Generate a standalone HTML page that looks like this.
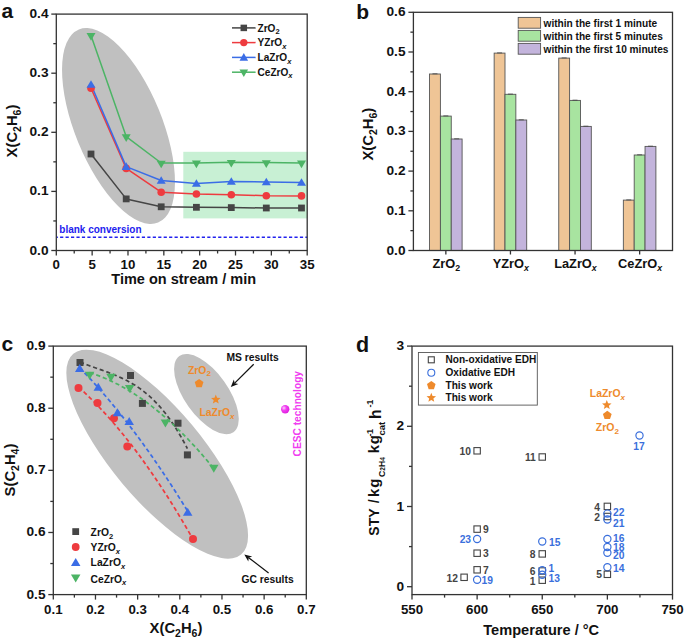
<!DOCTYPE html>
<html><head><meta charset="utf-8"><style>
html,body{margin:0;padding:0;background:#fff;}
svg{display:block;}
text{font-family:"Liberation Sans",sans-serif;}
</style></head><body>
<svg width="685" height="641" viewBox="0 0 685 641">
<rect width="685" height="641" fill="#fff"/>
<ellipse cx="118.5" cy="126" rx="104.4" ry="43.5" transform="rotate(67.7 118.5 126)" fill="#c0c0c0"/>
<rect x="183.3" y="151.8" width="123.89999999999998" height="66.6" fill="#c8f0d4"/>
<line x1="56.80" y1="237.30" x2="307.20" y2="237.30" stroke="#2222ee" stroke-width="1.4" stroke-dasharray="3.2,2.25" stroke-dashoffset="-3.3"/>
<text x="59.30" y="233.30" font-size="10.0" text-anchor="start" fill="#2222ee" font-weight="bold" >blank conversion</text>
<polyline points="91.00,154.00 126.20,198.90 161.20,206.80 196.40,207.30 231.30,207.60 266.30,208.00 301.50,208.00" fill="none" stroke="#454545" stroke-width="1.5"  stroke-linejoin="round"/>
<polyline points="91.00,88.20 126.20,168.40 161.20,192.20 196.40,194.00 231.30,194.70 266.30,195.70 301.50,195.90" fill="none" stroke="#ee3b3f" stroke-width="1.5"  stroke-linejoin="round"/>
<polyline points="91.00,84.50 126.20,166.60 161.20,180.50 196.40,183.50 231.30,181.50 266.30,182.00 301.50,182.50" fill="none" stroke="#3b6de6" stroke-width="1.5"  stroke-linejoin="round"/>
<polyline points="91.00,35.40 126.20,136.60 161.20,163.00 196.40,162.90 231.30,162.20 266.30,162.60 301.50,162.90" fill="none" stroke="#4cb465" stroke-width="1.5"  stroke-linejoin="round"/>
<rect x="87.60" y="150.60" width="6.8" height="6.8" fill="#454545" stroke="none" stroke-width="0"/>
<rect x="122.80" y="195.50" width="6.8" height="6.8" fill="#454545" stroke="none" stroke-width="0"/>
<rect x="157.80" y="203.40" width="6.8" height="6.8" fill="#454545" stroke="none" stroke-width="0"/>
<rect x="193.00" y="203.90" width="6.8" height="6.8" fill="#454545" stroke="none" stroke-width="0"/>
<rect x="227.90" y="204.20" width="6.8" height="6.8" fill="#454545" stroke="none" stroke-width="0"/>
<rect x="262.90" y="204.60" width="6.8" height="6.8" fill="#454545" stroke="none" stroke-width="0"/>
<rect x="298.10" y="204.60" width="6.8" height="6.8" fill="#454545" stroke="none" stroke-width="0"/>
<circle cx="91.00" cy="88.20" r="3.8" fill="#ee3b3f" stroke="none" stroke-width="0"/>
<circle cx="126.20" cy="168.40" r="3.8" fill="#ee3b3f" stroke="none" stroke-width="0"/>
<circle cx="161.20" cy="192.20" r="3.8" fill="#ee3b3f" stroke="none" stroke-width="0"/>
<circle cx="196.40" cy="194.00" r="3.8" fill="#ee3b3f" stroke="none" stroke-width="0"/>
<circle cx="231.30" cy="194.70" r="3.8" fill="#ee3b3f" stroke="none" stroke-width="0"/>
<circle cx="266.30" cy="195.70" r="3.8" fill="#ee3b3f" stroke="none" stroke-width="0"/>
<circle cx="301.50" cy="195.90" r="3.8" fill="#ee3b3f" stroke="none" stroke-width="0"/>
<path d="M86.50,87.80 L95.50,87.80 L91.00,80.20Z" fill="#3b6de6"/>
<path d="M121.70,169.90 L130.70,169.90 L126.20,162.30Z" fill="#3b6de6"/>
<path d="M156.70,183.80 L165.70,183.80 L161.20,176.20Z" fill="#3b6de6"/>
<path d="M191.90,186.80 L200.90,186.80 L196.40,179.20Z" fill="#3b6de6"/>
<path d="M226.80,184.80 L235.80,184.80 L231.30,177.20Z" fill="#3b6de6"/>
<path d="M261.80,185.30 L270.80,185.30 L266.30,177.70Z" fill="#3b6de6"/>
<path d="M297.00,185.80 L306.00,185.80 L301.50,178.20Z" fill="#3b6de6"/>
<path d="M86.50,33.10 L95.50,33.10 L91.00,40.70Z" fill="#4cb465"/>
<path d="M121.70,134.30 L130.70,134.30 L126.20,141.90Z" fill="#4cb465"/>
<path d="M156.70,160.70 L165.70,160.70 L161.20,168.30Z" fill="#4cb465"/>
<path d="M191.90,160.60 L200.90,160.60 L196.40,168.20Z" fill="#4cb465"/>
<path d="M226.80,159.90 L235.80,159.90 L231.30,167.50Z" fill="#4cb465"/>
<path d="M261.80,160.30 L270.80,160.30 L266.30,167.90Z" fill="#4cb465"/>
<path d="M297.00,160.60 L306.00,160.60 L301.50,168.20Z" fill="#4cb465"/>
<rect x="56.3" y="14.1" width="250.89999999999998" height="236.4" fill="none" stroke="#333" stroke-width="1.3"/>
<line x1="51.30" y1="250.50" x2="56.30" y2="250.50" stroke="#333" stroke-width="1.3" />
<text x="48.50" y="254.50" font-size="13.7" text-anchor="end" fill="#111" font-weight="bold" >0.0</text>
<line x1="53.30" y1="220.95" x2="56.30" y2="220.95" stroke="#333" stroke-width="1.3" />
<line x1="51.30" y1="191.40" x2="56.30" y2="191.40" stroke="#333" stroke-width="1.3" />
<text x="48.50" y="195.40" font-size="13.7" text-anchor="end" fill="#111" font-weight="bold" >0.1</text>
<line x1="53.30" y1="161.85" x2="56.30" y2="161.85" stroke="#333" stroke-width="1.3" />
<line x1="51.30" y1="132.30" x2="56.30" y2="132.30" stroke="#333" stroke-width="1.3" />
<text x="48.50" y="136.30" font-size="13.7" text-anchor="end" fill="#111" font-weight="bold" >0.2</text>
<line x1="53.30" y1="102.75" x2="56.30" y2="102.75" stroke="#333" stroke-width="1.3" />
<line x1="51.30" y1="73.20" x2="56.30" y2="73.20" stroke="#333" stroke-width="1.3" />
<text x="48.50" y="77.20" font-size="13.7" text-anchor="end" fill="#111" font-weight="bold" >0.3</text>
<line x1="53.30" y1="43.65" x2="56.30" y2="43.65" stroke="#333" stroke-width="1.3" />
<line x1="51.30" y1="14.10" x2="56.30" y2="14.10" stroke="#333" stroke-width="1.3" />
<text x="48.50" y="18.10" font-size="13.7" text-anchor="end" fill="#111" font-weight="bold" >0.4</text>
<line x1="56.30" y1="250.50" x2="56.30" y2="255.50" stroke="#333" stroke-width="1.3" />
<text x="56.30" y="269.00" font-size="13.3" text-anchor="middle" fill="#111" font-weight="bold" >0</text>
<line x1="74.22" y1="250.50" x2="74.22" y2="253.50" stroke="#333" stroke-width="1.3" />
<line x1="92.14" y1="250.50" x2="92.14" y2="255.50" stroke="#333" stroke-width="1.3" />
<text x="92.14" y="269.00" font-size="13.3" text-anchor="middle" fill="#111" font-weight="bold" >5</text>
<line x1="110.06" y1="250.50" x2="110.06" y2="253.50" stroke="#333" stroke-width="1.3" />
<line x1="127.99" y1="250.50" x2="127.99" y2="255.50" stroke="#333" stroke-width="1.3" />
<text x="127.99" y="269.00" font-size="13.3" text-anchor="middle" fill="#111" font-weight="bold" >10</text>
<line x1="145.91" y1="250.50" x2="145.91" y2="253.50" stroke="#333" stroke-width="1.3" />
<line x1="163.83" y1="250.50" x2="163.83" y2="255.50" stroke="#333" stroke-width="1.3" />
<text x="163.83" y="269.00" font-size="13.3" text-anchor="middle" fill="#111" font-weight="bold" >15</text>
<line x1="181.75" y1="250.50" x2="181.75" y2="253.50" stroke="#333" stroke-width="1.3" />
<line x1="199.67" y1="250.50" x2="199.67" y2="255.50" stroke="#333" stroke-width="1.3" />
<text x="199.67" y="269.00" font-size="13.3" text-anchor="middle" fill="#111" font-weight="bold" >20</text>
<line x1="217.59" y1="250.50" x2="217.59" y2="253.50" stroke="#333" stroke-width="1.3" />
<line x1="235.51" y1="250.50" x2="235.51" y2="255.50" stroke="#333" stroke-width="1.3" />
<text x="235.51" y="269.00" font-size="13.3" text-anchor="middle" fill="#111" font-weight="bold" >25</text>
<line x1="253.44" y1="250.50" x2="253.44" y2="253.50" stroke="#333" stroke-width="1.3" />
<line x1="271.36" y1="250.50" x2="271.36" y2="255.50" stroke="#333" stroke-width="1.3" />
<text x="271.36" y="269.00" font-size="13.3" text-anchor="middle" fill="#111" font-weight="bold" >30</text>
<line x1="289.28" y1="250.50" x2="289.28" y2="253.50" stroke="#333" stroke-width="1.3" />
<line x1="307.20" y1="250.50" x2="307.20" y2="255.50" stroke="#333" stroke-width="1.3" />
<text x="307.20" y="269.00" font-size="13.3" text-anchor="middle" fill="#111" font-weight="bold" >35</text>
<text x="183.70" y="284.30" font-size="14.5" text-anchor="middle" fill="#111" font-weight="bold" >Time on stream / min</text>
<text transform="translate(17.2,131.0) rotate(-90)" font-size="14.8" font-weight="bold" text-anchor="middle" fill="#111">X(C<tspan font-size="10.5" dy="4">2</tspan><tspan dy="-4">H</tspan><tspan font-size="10.5" dy="4">6</tspan><tspan dy="-4">)</tspan></text>
<text x="1.50" y="18.00" font-size="21" text-anchor="start" fill="#111" font-weight="bold" >a</text>
<line x1="232.00" y1="27.90" x2="255.60" y2="27.90" stroke="#454545" stroke-width="1.5" />
<rect x="240.55" y="24.65" width="6.5" height="6.5" fill="#454545" stroke="none" stroke-width="0"/>
<text x="257.50" y="31.50" font-size="10.1" text-anchor="start" fill="#111" font-weight="bold" >ZrO<tspan font-size="7.5" dy="2.5">2</tspan></text>
<line x1="232.00" y1="42.60" x2="255.60" y2="42.60" stroke="#ee3b3f" stroke-width="1.5" />
<circle cx="243.80" cy="42.60" r="3.7" fill="#ee3b3f" stroke="none" stroke-width="0"/>
<text x="257.50" y="46.20" font-size="10.1" text-anchor="start" fill="#111" font-weight="bold" >YZrO<tspan font-size="7.5" dy="2.5" font-style="italic">x</tspan></text>
<line x1="232.00" y1="57.40" x2="255.60" y2="57.40" stroke="#3b6de6" stroke-width="1.5" />
<path d="M239.50,60.70 L248.10,60.70 L243.80,53.10Z" fill="#3b6de6"/>
<text x="257.50" y="61.00" font-size="10.1" text-anchor="start" fill="#111" font-weight="bold" >LaZrO<tspan font-size="7.5" dy="2.5" font-style="italic">x</tspan></text>
<line x1="232.00" y1="72.20" x2="255.60" y2="72.20" stroke="#4cb465" stroke-width="1.5" />
<path d="M239.50,69.40 L248.10,69.40 L243.80,77.00Z" fill="#4cb465"/>
<text x="257.50" y="75.80" font-size="10.1" text-anchor="start" fill="#111" font-weight="bold" >CeZrO<tspan font-size="7.5" dy="2.5" font-style="italic">x</tspan></text>
<rect x="429.55" y="74.00" width="10.85" height="176.50" fill="#efc596" stroke="#555" stroke-width="0.9"/>
<line x1="432.48" y1="73.80" x2="437.48" y2="73.80" stroke="#444" stroke-width="0.8" />
<rect x="440.40" y="116.10" width="10.85" height="134.40" fill="#a8e4a0" stroke="#555" stroke-width="0.9"/>
<line x1="443.33" y1="115.90" x2="448.33" y2="115.90" stroke="#444" stroke-width="0.8" />
<rect x="451.25" y="139.00" width="10.85" height="111.50" fill="#c3b4dc" stroke="#555" stroke-width="0.9"/>
<line x1="454.18" y1="138.80" x2="459.18" y2="138.80" stroke="#444" stroke-width="0.8" />
<rect x="494.15" y="53.10" width="10.85" height="197.40" fill="#efc596" stroke="#555" stroke-width="0.9"/>
<line x1="497.07" y1="52.90" x2="502.07" y2="52.90" stroke="#444" stroke-width="0.8" />
<rect x="505.00" y="94.30" width="10.85" height="156.20" fill="#a8e4a0" stroke="#555" stroke-width="0.9"/>
<line x1="507.93" y1="94.10" x2="512.92" y2="94.10" stroke="#444" stroke-width="0.8" />
<rect x="515.85" y="120.00" width="10.85" height="130.50" fill="#c3b4dc" stroke="#555" stroke-width="0.9"/>
<line x1="518.77" y1="119.80" x2="523.77" y2="119.80" stroke="#444" stroke-width="0.8" />
<rect x="558.75" y="58.10" width="10.85" height="192.40" fill="#efc596" stroke="#555" stroke-width="0.9"/>
<line x1="561.67" y1="57.90" x2="566.67" y2="57.90" stroke="#444" stroke-width="0.8" />
<rect x="569.60" y="100.40" width="10.85" height="150.10" fill="#a8e4a0" stroke="#555" stroke-width="0.9"/>
<line x1="572.52" y1="100.20" x2="577.52" y2="100.20" stroke="#444" stroke-width="0.8" />
<rect x="580.45" y="126.40" width="10.85" height="124.10" fill="#c3b4dc" stroke="#555" stroke-width="0.9"/>
<line x1="583.38" y1="126.20" x2="588.38" y2="126.20" stroke="#444" stroke-width="0.8" />
<rect x="623.35" y="200.10" width="10.85" height="50.40" fill="#efc596" stroke="#555" stroke-width="0.9"/>
<line x1="626.27" y1="199.90" x2="631.27" y2="199.90" stroke="#444" stroke-width="0.8" />
<rect x="634.20" y="155.00" width="10.85" height="95.50" fill="#a8e4a0" stroke="#555" stroke-width="0.9"/>
<line x1="637.12" y1="154.80" x2="642.12" y2="154.80" stroke="#444" stroke-width="0.8" />
<rect x="645.05" y="146.40" width="10.85" height="104.10" fill="#c3b4dc" stroke="#555" stroke-width="0.9"/>
<line x1="647.98" y1="146.20" x2="652.98" y2="146.20" stroke="#444" stroke-width="0.8" />
<rect x="413.4" y="12.3" width="259.1" height="238.2" fill="none" stroke="#333" stroke-width="1.3"/>
<line x1="408.40" y1="250.50" x2="413.40" y2="250.50" stroke="#333" stroke-width="1.3" />
<text x="405.50" y="254.50" font-size="13.7" text-anchor="end" fill="#111" font-weight="bold" >0.0</text>
<line x1="410.40" y1="230.65" x2="413.40" y2="230.65" stroke="#333" stroke-width="1.3" />
<line x1="408.40" y1="210.80" x2="413.40" y2="210.80" stroke="#333" stroke-width="1.3" />
<text x="405.50" y="214.80" font-size="13.7" text-anchor="end" fill="#111" font-weight="bold" >0.1</text>
<line x1="410.40" y1="190.95" x2="413.40" y2="190.95" stroke="#333" stroke-width="1.3" />
<line x1="408.40" y1="171.10" x2="413.40" y2="171.10" stroke="#333" stroke-width="1.3" />
<text x="405.50" y="175.10" font-size="13.7" text-anchor="end" fill="#111" font-weight="bold" >0.2</text>
<line x1="410.40" y1="151.25" x2="413.40" y2="151.25" stroke="#333" stroke-width="1.3" />
<line x1="408.40" y1="131.40" x2="413.40" y2="131.40" stroke="#333" stroke-width="1.3" />
<text x="405.50" y="135.40" font-size="13.7" text-anchor="end" fill="#111" font-weight="bold" >0.3</text>
<line x1="410.40" y1="111.55" x2="413.40" y2="111.55" stroke="#333" stroke-width="1.3" />
<line x1="408.40" y1="91.70" x2="413.40" y2="91.70" stroke="#333" stroke-width="1.3" />
<text x="405.50" y="95.70" font-size="13.7" text-anchor="end" fill="#111" font-weight="bold" >0.4</text>
<line x1="410.40" y1="71.85" x2="413.40" y2="71.85" stroke="#333" stroke-width="1.3" />
<line x1="408.40" y1="52.00" x2="413.40" y2="52.00" stroke="#333" stroke-width="1.3" />
<text x="405.50" y="56.00" font-size="13.7" text-anchor="end" fill="#111" font-weight="bold" >0.5</text>
<line x1="410.40" y1="32.15" x2="413.40" y2="32.15" stroke="#333" stroke-width="1.3" />
<line x1="408.40" y1="12.30" x2="413.40" y2="12.30" stroke="#333" stroke-width="1.3" />
<text x="405.50" y="16.30" font-size="13.7" text-anchor="end" fill="#111" font-weight="bold" >0.6</text>
<line x1="445.85" y1="250.50" x2="445.85" y2="254.50" stroke="#333" stroke-width="1.3" />
<text x="446.25" y="268.20" font-size="12.8" text-anchor="middle" fill="#111" font-weight="bold" >ZrO<tspan font-size="8.8" dy="3">2</tspan></text>
<line x1="510.45" y1="250.50" x2="510.45" y2="254.50" stroke="#333" stroke-width="1.3" />
<text x="510.85" y="268.20" font-size="12.8" text-anchor="middle" fill="#111" font-weight="bold" >YZrO<tspan font-size="8.8" dy="3" font-style="italic">x</tspan></text>
<line x1="575.05" y1="250.50" x2="575.05" y2="254.50" stroke="#333" stroke-width="1.3" />
<text x="575.45" y="268.20" font-size="12.8" text-anchor="middle" fill="#111" font-weight="bold" >LaZrO<tspan font-size="8.8" dy="3" font-style="italic">x</tspan></text>
<line x1="639.65" y1="250.50" x2="639.65" y2="254.50" stroke="#333" stroke-width="1.3" />
<text x="640.05" y="268.20" font-size="12.8" text-anchor="middle" fill="#111" font-weight="bold" >CeZrO<tspan font-size="8.8" dy="3" font-style="italic">x</tspan></text>
<text transform="translate(373,134.2) rotate(-90)" font-size="14.8" font-weight="bold" text-anchor="middle" fill="#111">X(C<tspan font-size="10.5" dy="4">2</tspan><tspan dy="-4">H</tspan><tspan font-size="10.5" dy="4">6</tspan><tspan dy="-4">)</tspan></text>
<text x="356.20" y="18.90" font-size="21" text-anchor="start" fill="#111" font-weight="bold" >b</text>
<rect x="518.2" y="17.40" width="22.4" height="10.8" fill="#efc596" stroke="#555" stroke-width="0.9"/>
<text x="543.50" y="26.60" font-size="10.15" text-anchor="start" fill="#111" font-weight="bold" >within the first 1 minute</text>
<rect x="518.2" y="30.40" width="22.4" height="10.8" fill="#a8e4a0" stroke="#555" stroke-width="0.9"/>
<text x="543.50" y="39.60" font-size="10.15" text-anchor="start" fill="#111" font-weight="bold" >within the first 5 minutes</text>
<rect x="518.2" y="43.40" width="22.4" height="10.8" fill="#c3b4dc" stroke="#555" stroke-width="0.9"/>
<text x="543.50" y="52.60" font-size="10.15" text-anchor="start" fill="#111" font-weight="bold" >within the first 10 minutes</text>
<ellipse cx="157.2" cy="454.2" rx="130.8" ry="45.5" transform="rotate(50.1 157.2 454.2)" fill="#c0c0c0"/>
<ellipse cx="206.4" cy="394.1" rx="46.7" ry="21.8" transform="rotate(54.6 206.4 394.1)" fill="#c0c0c0"/>
<path d="M80.00,362.03 L82.75,363.15 L85.51,364.22 L88.26,365.26 L91.02,366.27 L93.77,367.26 L96.52,368.23 L99.28,369.20 L102.03,370.18 L104.78,371.17 L107.54,372.18 L110.29,373.23 L113.05,374.31 L115.80,375.44 L118.55,376.62 L121.31,377.87 L124.06,379.18 L126.82,380.58 L129.57,382.07 L132.32,383.66 L135.08,385.35 L137.83,387.15 L140.58,389.08 L143.34,391.14 L146.09,393.34 L148.85,395.68 L151.60,398.18 L154.35,400.85 L157.11,403.68 L159.86,406.70 L162.62,409.91 L165.37,413.32 L168.12,416.93 L170.88,420.76 L173.63,424.81 L176.38,429.09 L179.14,433.61 L181.89,438.38 L184.65,443.40 L187.40,448.69" fill="none" stroke="#454545" stroke-width="1.75" stroke-dasharray="4.2,2.8"/>
<path d="M89.60,372.63 L92.78,373.65 L95.96,374.75 L99.14,375.92 L102.32,377.17 L105.50,378.50 L108.68,379.90 L111.86,381.37 L115.04,382.92 L118.22,384.55 L121.39,386.25 L124.57,388.03 L127.75,389.88 L130.93,391.81 L134.11,393.81 L137.29,395.89 L140.47,398.04 L143.65,400.27 L146.83,402.57 L150.01,404.95 L153.19,407.41 L156.37,409.94 L159.55,412.55 L162.73,415.23 L165.91,417.98 L169.09,420.82 L172.27,423.72 L175.45,426.71 L178.63,429.77 L181.81,432.90 L184.98,436.11 L188.16,439.39 L191.34,442.75 L194.52,446.19 L197.70,449.70 L200.88,453.28 L204.06,456.95 L207.24,460.68 L210.42,464.49 L213.60,468.38" fill="none" stroke="#4cb465" stroke-width="1.75" stroke-dasharray="4.2,2.8"/>
<path d="M79.70,367.80 L82.47,370.65 L85.24,373.54 L88.01,376.48 L90.78,379.46 L93.55,382.48 L96.32,385.54 L99.08,388.65 L101.85,391.81 L104.62,395.00 L107.39,398.25 L110.16,401.53 L112.93,404.86 L115.70,408.23 L118.47,411.65 L121.24,415.11 L124.01,418.61 L126.78,422.16 L129.55,425.75 L132.32,429.38 L135.08,433.06 L137.85,436.78 L140.62,440.55 L143.39,444.36 L146.16,448.21 L148.93,452.11 L151.70,456.05 L154.47,460.03 L157.24,464.06 L160.01,468.13 L162.78,472.25 L165.55,476.40 L168.32,480.61 L171.08,484.85 L173.85,489.14 L176.62,493.48 L179.39,497.86 L182.16,502.28 L184.93,506.74 L187.70,511.25" fill="none" stroke="#3b6de6" stroke-width="1.75" stroke-dasharray="4.2,2.8"/>
<path d="M78.50,386.99 L81.44,389.65 L84.37,392.38 L87.31,395.17 L90.24,398.03 L93.18,400.95 L96.12,403.94 L99.05,406.99 L101.99,410.11 L104.92,413.29 L107.86,416.54 L110.79,419.86 L113.73,423.24 L116.67,426.68 L119.60,430.19 L122.54,433.77 L125.47,437.41 L128.41,441.12 L131.35,444.89 L134.28,448.73 L137.22,452.63 L140.15,456.60 L143.09,460.63 L146.03,464.73 L148.96,468.90 L151.90,473.13 L154.83,477.42 L157.77,481.78 L160.71,486.21 L163.64,490.70 L166.58,495.26 L169.51,499.88 L172.45,504.57 L175.38,509.32 L178.32,514.14 L181.26,519.03 L184.19,523.98 L187.13,528.99 L190.06,534.07 L193.00,539.22" fill="none" stroke="#ee3b3f" stroke-width="1.75" stroke-dasharray="4.2,2.8"/>
<rect x="76.50" y="359.00" width="7" height="7" fill="#454545" stroke="none" stroke-width="0"/>
<rect x="127.00" y="372.00" width="7" height="7" fill="#454545" stroke="none" stroke-width="0"/>
<rect x="138.90" y="399.90" width="7" height="7" fill="#454545" stroke="none" stroke-width="0"/>
<rect x="174.50" y="419.70" width="7" height="7" fill="#454545" stroke="none" stroke-width="0"/>
<rect x="183.90" y="451.40" width="7" height="7" fill="#454545" stroke="none" stroke-width="0"/>
<circle cx="78.50" cy="387.90" r="4" fill="#ee3b3f" stroke="none" stroke-width="0"/>
<circle cx="97.50" cy="403.10" r="4" fill="#ee3b3f" stroke="none" stroke-width="0"/>
<circle cx="114.00" cy="418.30" r="4" fill="#ee3b3f" stroke="none" stroke-width="0"/>
<circle cx="127.30" cy="446.50" r="4" fill="#ee3b3f" stroke="none" stroke-width="0"/>
<circle cx="193.00" cy="539.00" r="4" fill="#ee3b3f" stroke="none" stroke-width="0"/>
<path d="M74.95,372.10 L84.45,372.10 L79.70,364.10Z" fill="#3b6de6"/>
<path d="M93.55,390.80 L103.05,390.80 L98.30,382.80Z" fill="#3b6de6"/>
<path d="M112.65,416.30 L122.15,416.30 L117.40,408.30Z" fill="#3b6de6"/>
<path d="M124.45,425.00 L133.95,425.00 L129.20,417.00Z" fill="#3b6de6"/>
<path d="M182.95,515.80 L192.45,515.80 L187.70,507.80Z" fill="#3b6de6"/>
<path d="M84.85,371.80 L94.35,371.80 L89.60,379.80Z" fill="#4cb465"/>
<path d="M106.25,373.80 L115.75,373.80 L111.00,381.80Z" fill="#4cb465"/>
<path d="M124.95,385.00 L134.45,385.00 L129.70,393.00Z" fill="#4cb465"/>
<path d="M160.65,419.40 L170.15,419.40 L165.40,427.40Z" fill="#4cb465"/>
<path d="M209.05,464.80 L218.55,464.80 L213.80,472.80Z" fill="#4cb465"/>
<rect x="53.3" y="346.1" width="253.0" height="248.5" fill="none" stroke="#333" stroke-width="1.3"/>
<line x1="48.30" y1="594.60" x2="53.30" y2="594.60" stroke="#333" stroke-width="1.3" />
<text x="45.50" y="598.60" font-size="13.7" text-anchor="end" fill="#111" font-weight="bold" >0.5</text>
<line x1="50.30" y1="563.54" x2="53.30" y2="563.54" stroke="#333" stroke-width="1.3" />
<line x1="48.30" y1="532.48" x2="53.30" y2="532.48" stroke="#333" stroke-width="1.3" />
<text x="45.50" y="536.48" font-size="13.7" text-anchor="end" fill="#111" font-weight="bold" >0.6</text>
<line x1="50.30" y1="501.41" x2="53.30" y2="501.41" stroke="#333" stroke-width="1.3" />
<line x1="48.30" y1="470.35" x2="53.30" y2="470.35" stroke="#333" stroke-width="1.3" />
<text x="45.50" y="474.35" font-size="13.7" text-anchor="end" fill="#111" font-weight="bold" >0.7</text>
<line x1="50.30" y1="439.29" x2="53.30" y2="439.29" stroke="#333" stroke-width="1.3" />
<line x1="48.30" y1="408.23" x2="53.30" y2="408.23" stroke="#333" stroke-width="1.3" />
<text x="45.50" y="412.23" font-size="13.7" text-anchor="end" fill="#111" font-weight="bold" >0.8</text>
<line x1="50.30" y1="377.16" x2="53.30" y2="377.16" stroke="#333" stroke-width="1.3" />
<line x1="48.30" y1="346.10" x2="53.30" y2="346.10" stroke="#333" stroke-width="1.3" />
<text x="45.50" y="350.10" font-size="13.7" text-anchor="end" fill="#111" font-weight="bold" >0.9</text>
<line x1="53.30" y1="594.60" x2="53.30" y2="599.60" stroke="#333" stroke-width="1.3" />
<text x="53.30" y="613.50" font-size="13.3" text-anchor="middle" fill="#111" font-weight="bold" >0.1</text>
<line x1="74.38" y1="594.60" x2="74.38" y2="597.60" stroke="#333" stroke-width="1.3" />
<line x1="95.47" y1="594.60" x2="95.47" y2="599.60" stroke="#333" stroke-width="1.3" />
<text x="95.47" y="613.50" font-size="13.3" text-anchor="middle" fill="#111" font-weight="bold" >0.2</text>
<line x1="116.55" y1="594.60" x2="116.55" y2="597.60" stroke="#333" stroke-width="1.3" />
<line x1="137.63" y1="594.60" x2="137.63" y2="599.60" stroke="#333" stroke-width="1.3" />
<text x="137.63" y="613.50" font-size="13.3" text-anchor="middle" fill="#111" font-weight="bold" >0.3</text>
<line x1="158.72" y1="594.60" x2="158.72" y2="597.60" stroke="#333" stroke-width="1.3" />
<line x1="179.80" y1="594.60" x2="179.80" y2="599.60" stroke="#333" stroke-width="1.3" />
<text x="179.80" y="613.50" font-size="13.3" text-anchor="middle" fill="#111" font-weight="bold" >0.4</text>
<line x1="200.88" y1="594.60" x2="200.88" y2="597.60" stroke="#333" stroke-width="1.3" />
<line x1="221.97" y1="594.60" x2="221.97" y2="599.60" stroke="#333" stroke-width="1.3" />
<text x="221.97" y="613.50" font-size="13.3" text-anchor="middle" fill="#111" font-weight="bold" >0.5</text>
<line x1="243.05" y1="594.60" x2="243.05" y2="597.60" stroke="#333" stroke-width="1.3" />
<line x1="264.13" y1="594.60" x2="264.13" y2="599.60" stroke="#333" stroke-width="1.3" />
<text x="264.13" y="613.50" font-size="13.3" text-anchor="middle" fill="#111" font-weight="bold" >0.6</text>
<line x1="285.22" y1="594.60" x2="285.22" y2="597.60" stroke="#333" stroke-width="1.3" />
<line x1="306.30" y1="594.60" x2="306.30" y2="599.60" stroke="#333" stroke-width="1.3" />
<text x="306.30" y="613.50" font-size="13.3" text-anchor="middle" fill="#111" font-weight="bold" >0.7</text>
<text transform="translate(176,632.8)" font-size="14.8" font-weight="bold" text-anchor="middle" fill="#111">X(C<tspan font-size="10.5" dy="4">2</tspan><tspan dy="-4">H</tspan><tspan font-size="10.5" dy="4">6</tspan><tspan dy="-4">)</tspan></text>
<text transform="translate(14.6,470) rotate(-90)" font-size="14.8" font-weight="bold" text-anchor="middle" fill="#111">S(C<tspan font-size="10.5" dy="4">2</tspan><tspan dy="-4">H</tspan><tspan font-size="10.5" dy="4">4</tspan><tspan dy="-4">)</tspan></text>
<text x="1.50" y="351.00" font-size="21" text-anchor="start" fill="#111" font-weight="bold" >c</text>
<rect x="72.30" y="528.20" width="6.8" height="6.8" fill="#454545" stroke="none" stroke-width="0"/>
<text x="90.60" y="536.00" font-size="10.3" text-anchor="start" fill="#111" font-weight="bold" >ZrO<tspan font-size="7.5" dy="2.5">2</tspan></text>
<circle cx="75.70" cy="547.00" r="3.9" fill="#ee3b3f" stroke="none" stroke-width="0"/>
<text x="90.60" y="551.40" font-size="10.3" text-anchor="start" fill="#111" font-weight="bold" >YZrO<tspan font-size="7.5" dy="2.5" font-style="italic">x</tspan></text>
<path d="M70.95,565.90 L80.45,565.90 L75.70,557.90Z" fill="#3b6de6"/>
<text x="90.60" y="566.30" font-size="10.3" text-anchor="start" fill="#111" font-weight="bold" >LaZrO<tspan font-size="7.5" dy="2.5" font-style="italic">x</tspan></text>
<path d="M70.95,574.50 L80.45,574.50 L75.70,582.50Z" fill="#4cb465"/>
<text x="90.60" y="582.90" font-size="10.3" text-anchor="start" fill="#111" font-weight="bold" >CeZrO<tspan font-size="7.5" dy="2.5" font-style="italic">x</tspan></text>
<text x="252.60" y="360.50" font-size="10.3" text-anchor="middle" fill="#111" font-weight="bold" >MS results</text>
<line x1="253.7" y1="364.3" x2="234.71" y2="383.13" stroke="#111" stroke-width="1.2"/>
<path d="M230.80,387.00 L233.87,379.45 L234.71,383.13 L238.38,383.99Z" fill="#111"/>
<text x="267.60" y="583.30" font-size="10.3" text-anchor="middle" fill="#111" font-weight="bold" >GC results</text>
<line x1="268.6" y1="573" x2="248.67" y2="557.74" stroke="#111" stroke-width="1.2"/>
<path d="M244.30,554.40 L252.20,556.42 L248.67,557.74 L248.31,561.50Z" fill="#111"/>
<text x="199.40" y="373.60" font-size="10.4" text-anchor="middle" fill="#ee8a2c" font-weight="bold" >ZrO<tspan font-size="8" dy="2.8">2</tspan></text>
<polygon points="199.10,378.90 203.47,382.08 201.80,387.22 196.40,387.22 194.73,382.08" fill="#ee8a2c"/>
<polygon points="215.80,394.50 217.09,397.72 220.56,397.95 217.89,400.18 218.74,403.55 215.80,401.70 212.86,403.55 213.71,400.18 211.04,397.95 214.51,397.72" fill="#ee8a2c"/>
<text x="217.00" y="415.80" font-size="10.4" text-anchor="middle" fill="#ee8a2c" font-weight="bold" >LaZrO<tspan font-size="8" dy="3" font-style="italic">x</tspan></text>
<defs><radialGradient id="mg" cx="0.35" cy="0.35" r="0.65"><stop offset="0" stop-color="#ffd0ff"/><stop offset="0.45" stop-color="#f040f0"/><stop offset="1" stop-color="#e020e0"/></radialGradient></defs>
<circle cx="285.2" cy="409.3" r="4.2" fill="url(#mg)"/>
<text transform="translate(301.3,413.7) rotate(-90)" font-size="10.2" font-weight="bold" text-anchor="middle" fill="#f03cf0">CESC technology</text>
<rect x="412" y="346.1" width="260.5" height="248.5" fill="none" stroke="#333" stroke-width="1.3"/>
<line x1="407.00" y1="586.70" x2="412.00" y2="586.70" stroke="#333" stroke-width="1.3" />
<text x="404.00" y="590.70" font-size="13.7" text-anchor="end" fill="#111" font-weight="bold" >0</text>
<line x1="409.00" y1="546.60" x2="412.00" y2="546.60" stroke="#333" stroke-width="1.3" />
<line x1="407.00" y1="506.50" x2="412.00" y2="506.50" stroke="#333" stroke-width="1.3" />
<text x="404.00" y="510.50" font-size="13.7" text-anchor="end" fill="#111" font-weight="bold" >1</text>
<line x1="409.00" y1="466.40" x2="412.00" y2="466.40" stroke="#333" stroke-width="1.3" />
<line x1="407.00" y1="426.30" x2="412.00" y2="426.30" stroke="#333" stroke-width="1.3" />
<text x="404.00" y="430.30" font-size="13.7" text-anchor="end" fill="#111" font-weight="bold" >2</text>
<line x1="409.00" y1="386.20" x2="412.00" y2="386.20" stroke="#333" stroke-width="1.3" />
<line x1="407.00" y1="346.10" x2="412.00" y2="346.10" stroke="#333" stroke-width="1.3" />
<text x="404.00" y="350.10" font-size="13.7" text-anchor="end" fill="#111" font-weight="bold" >3</text>
<line x1="412.00" y1="594.60" x2="412.00" y2="599.60" stroke="#333" stroke-width="1.3" />
<text x="412.00" y="613.50" font-size="13.3" text-anchor="middle" fill="#111" font-weight="bold" >550</text>
<line x1="444.56" y1="594.60" x2="444.56" y2="597.60" stroke="#333" stroke-width="1.3" />
<line x1="477.12" y1="594.60" x2="477.12" y2="599.60" stroke="#333" stroke-width="1.3" />
<text x="477.12" y="613.50" font-size="13.3" text-anchor="middle" fill="#111" font-weight="bold" >600</text>
<line x1="509.69" y1="594.60" x2="509.69" y2="597.60" stroke="#333" stroke-width="1.3" />
<line x1="542.25" y1="594.60" x2="542.25" y2="599.60" stroke="#333" stroke-width="1.3" />
<text x="542.25" y="613.50" font-size="13.3" text-anchor="middle" fill="#111" font-weight="bold" >650</text>
<line x1="574.81" y1="594.60" x2="574.81" y2="597.60" stroke="#333" stroke-width="1.3" />
<line x1="607.38" y1="594.60" x2="607.38" y2="599.60" stroke="#333" stroke-width="1.3" />
<text x="607.38" y="613.50" font-size="13.3" text-anchor="middle" fill="#111" font-weight="bold" >700</text>
<line x1="639.94" y1="594.60" x2="639.94" y2="597.60" stroke="#333" stroke-width="1.3" />
<line x1="672.50" y1="594.60" x2="672.50" y2="599.60" stroke="#333" stroke-width="1.3" />
<text x="672.50" y="613.50" font-size="13.3" text-anchor="middle" fill="#111" font-weight="bold" >750</text>
<text x="541.20" y="634.60" font-size="14.6" text-anchor="middle" fill="#111" font-weight="bold" >Temperature / °C</text>
<g transform="translate(379.4,534.9) rotate(-90)">
<text x="-0.80" y="0.00" font-size="14.1" font-weight="bold" fill="#111">STY</text>
<text x="31.60" y="0.00" font-size="14.1" font-weight="bold" fill="#111">/</text>
<text x="37.90" y="0.00" font-size="15" font-weight="bold" fill="#111"><tspan letter-spacing="0.8">k</tspan>g</text>
<text x="58.00" y="5.10" font-size="8.6" font-weight="bold" fill="#111">C<tspan font-size="6.5">2</tspan>H<tspan font-size="6.5">4</tspan></text>
<text x="81.60" y="0.00" font-size="15" font-weight="bold" fill="#111"><tspan letter-spacing="0.8">k</tspan>g</text>
<text x="98.30" y="-6.30" font-size="9.2" font-weight="bold" fill="#111"><tspan letter-spacing="-0.4">-</tspan>1</text>
<text x="99.40" y="5.10" font-size="9.5" font-weight="bold" fill="#111">cat</text>
<text x="115.80" y="1.20" font-size="15.6" font-weight="bold" fill="#111">h</text>
<text x="127.40" y="-6.30" font-size="9.2" font-weight="bold" fill="#111"><tspan letter-spacing="-0.4">-</tspan>1</text>
</g>
<text x="356.00" y="351.50" font-size="21.5" text-anchor="start" fill="#111" font-weight="bold" >d</text>
<rect x="418.4" y="352.5" width="118.9" height="52.6" fill="#fff" stroke="#555" stroke-width="0.9"/>
<rect x="428.3" y="356.8" width="6" height="6" fill="none" stroke="#444" stroke-width="1.1"/>
<circle cx="431.30" cy="372.70" r="3.5" fill="none" stroke="#3a6fdc" stroke-width="1.1"/>
<polygon points="431.30,381.00 435.58,384.11 433.95,389.14 428.65,389.14 427.02,384.11" fill="#ee8a2c"/>
<polygon points="431.30,392.70 432.59,395.92 436.06,396.15 433.39,398.38 434.24,401.75 431.30,399.90 428.36,401.75 429.21,398.38 426.54,396.15 430.01,395.92" fill="#ee8a2c"/>
<text x="445.50" y="363.40" font-size="10.1" text-anchor="start" fill="#111" font-weight="bold" >Non-oxidative EDH</text>
<text x="445.50" y="376.30" font-size="10.1" text-anchor="start" fill="#111" font-weight="bold" >Oxidative EDH</text>
<text x="445.50" y="388.90" font-size="10.1" text-anchor="start" fill="#111" font-weight="bold" >This work</text>
<text x="445.50" y="401.40" font-size="10.1" text-anchor="start" fill="#111" font-weight="bold" >This work</text>
<rect x="473.93" y="525.90" width="6.4" height="6.4" fill="none" stroke="#444" stroke-width="1.1"/>
<text x="483.12" y="532.80" font-size="10.3" text-anchor="start" fill="#444" font-weight="bold" >9</text>
<circle cx="477.12" cy="539.00" r="3.6" fill="none" stroke="#3a6fdc" stroke-width="1.2"/>
<text x="471.12" y="543.30" font-size="10.3" text-anchor="end" fill="#3a6fdc" font-weight="bold" >23</text>
<rect x="473.93" y="550.00" width="6.4" height="6.4" fill="none" stroke="#444" stroke-width="1.1"/>
<text x="483.12" y="557.30" font-size="10.3" text-anchor="start" fill="#444" font-weight="bold" >3</text>
<rect x="473.93" y="566.60" width="6.4" height="6.4" fill="none" stroke="#444" stroke-width="1.1"/>
<text x="483.12" y="573.80" font-size="10.3" text-anchor="start" fill="#444" font-weight="bold" >7</text>
<circle cx="477.12" cy="579.80" r="3.6" fill="none" stroke="#3a6fdc" stroke-width="1.2"/>
<text x="481.62" y="584.30" font-size="10.3" text-anchor="start" fill="#3a6fdc" font-weight="bold" >19</text>
<rect x="460.90" y="574.10" width="6.4" height="6.4" fill="none" stroke="#444" stroke-width="1.1"/>
<text x="458.00" y="581.60" font-size="10.3" text-anchor="end" fill="#444" font-weight="bold" >12</text>
<rect x="473.93" y="447.60" width="6.4" height="6.4" fill="none" stroke="#444" stroke-width="1.1"/>
<text x="471.00" y="455.10" font-size="10.3" text-anchor="end" fill="#444" font-weight="bold" >10</text>
<rect x="539.05" y="453.80" width="6.4" height="6.4" fill="none" stroke="#444" stroke-width="1.1"/>
<text x="535.80" y="461.30" font-size="10.3" text-anchor="end" fill="#444" font-weight="bold" >11</text>
<circle cx="542.25" cy="541.50" r="3.6" fill="none" stroke="#3a6fdc" stroke-width="1.2"/>
<text x="549.00" y="545.80" font-size="10.3" text-anchor="start" fill="#3a6fdc" font-weight="bold" >15</text>
<rect x="539.05" y="550.70" width="6.4" height="6.4" fill="none" stroke="#444" stroke-width="1.1"/>
<text x="535.50" y="558.20" font-size="10.3" text-anchor="end" fill="#444" font-weight="bold" >8</text>
<rect x="539.05" y="567.80" width="6.4" height="6.4" fill="none" stroke="#444" stroke-width="1.1"/>
<text x="535.50" y="575.30" font-size="10.3" text-anchor="end" fill="#444" font-weight="bold" >6</text>
<rect x="539.05" y="577.00" width="6.4" height="6.4" fill="none" stroke="#444" stroke-width="1.1"/>
<text x="535.50" y="584.70" font-size="10.3" text-anchor="end" fill="#444" font-weight="bold" >1</text>
<circle cx="542.25" cy="570.30" r="3.6" fill="none" stroke="#3a6fdc" stroke-width="1.2"/>
<circle cx="542.25" cy="574.80" r="3.6" fill="none" stroke="#3a6fdc" stroke-width="1.2"/>
<text x="548.50" y="572.30" font-size="10.3" text-anchor="start" fill="#3a6fdc" font-weight="bold" >1</text>
<text x="548.50" y="581.90" font-size="10.3" text-anchor="start" fill="#3a6fdc" font-weight="bold" >13</text>
<rect x="604.17" y="503.20" width="6.4" height="6.4" fill="none" stroke="#444" stroke-width="1.1"/>
<text x="600.00" y="510.70" font-size="10.3" text-anchor="end" fill="#444" font-weight="bold" >4</text>
<rect x="604.17" y="513.30" width="6.4" height="6.4" fill="none" stroke="#444" stroke-width="1.1"/>
<text x="600.00" y="520.80" font-size="10.3" text-anchor="end" fill="#444" font-weight="bold" >2</text>
<circle cx="607.38" cy="513.60" r="3.6" fill="none" stroke="#3a6fdc" stroke-width="1.2"/>
<circle cx="607.38" cy="519.50" r="3.6" fill="none" stroke="#3a6fdc" stroke-width="1.2"/>
<text x="613.00" y="516.40" font-size="10.3" text-anchor="start" fill="#3a6fdc" font-weight="bold" >22</text>
<text x="613.00" y="526.90" font-size="10.3" text-anchor="start" fill="#3a6fdc" font-weight="bold" >21</text>
<circle cx="607.38" cy="539.00" r="3.6" fill="none" stroke="#3a6fdc" stroke-width="1.2"/>
<text x="613.00" y="541.80" font-size="10.3" text-anchor="start" fill="#3a6fdc" font-weight="bold" >16</text>
<circle cx="607.38" cy="547.00" r="3.6" fill="none" stroke="#3a6fdc" stroke-width="1.2"/>
<text x="613.00" y="550.80" font-size="10.3" text-anchor="start" fill="#3a6fdc" font-weight="bold" >18</text>
<circle cx="607.38" cy="552.70" r="3.6" fill="none" stroke="#3a6fdc" stroke-width="1.2"/>
<text x="613.00" y="559.30" font-size="10.3" text-anchor="start" fill="#3a6fdc" font-weight="bold" >20</text>
<circle cx="607.38" cy="567.30" r="3.6" fill="none" stroke="#3a6fdc" stroke-width="1.2"/>
<text x="613.00" y="571.80" font-size="10.3" text-anchor="start" fill="#3a6fdc" font-weight="bold" >14</text>
<rect x="604.17" y="571.10" width="6.4" height="6.4" fill="none" stroke="#444" stroke-width="1.1"/>
<text x="602.00" y="578.30" font-size="10.3" text-anchor="end" fill="#444" font-weight="bold" >5</text>
<circle cx="639.50" cy="435.50" r="3.6" fill="none" stroke="#3a6fdc" stroke-width="1.2"/>
<text x="639.00" y="450.30" font-size="10.3" text-anchor="middle" fill="#3a6fdc" font-weight="bold" >17</text>
<polygon points="606.80,400.00 608.09,403.22 611.56,403.45 608.89,405.68 609.74,409.05 606.80,407.20 603.86,409.05 604.71,405.68 602.04,403.45 605.51,403.22" fill="#ee8a2c"/>
<polygon points="607.30,410.70 611.67,413.88 610.00,419.02 604.60,419.02 602.93,413.88" fill="#ee8a2c"/>
<text x="607.40" y="397.00" font-size="10.4" text-anchor="middle" fill="#ee8a2c" font-weight="bold" >LaZrO<tspan font-size="8" dy="3" font-style="italic">x</tspan></text>
<text x="607.40" y="431.00" font-size="10.5" text-anchor="middle" fill="#ee8a2c" font-weight="bold" >ZrO<tspan font-size="8" dy="2.5">2</tspan></text>
</svg></body></html>
